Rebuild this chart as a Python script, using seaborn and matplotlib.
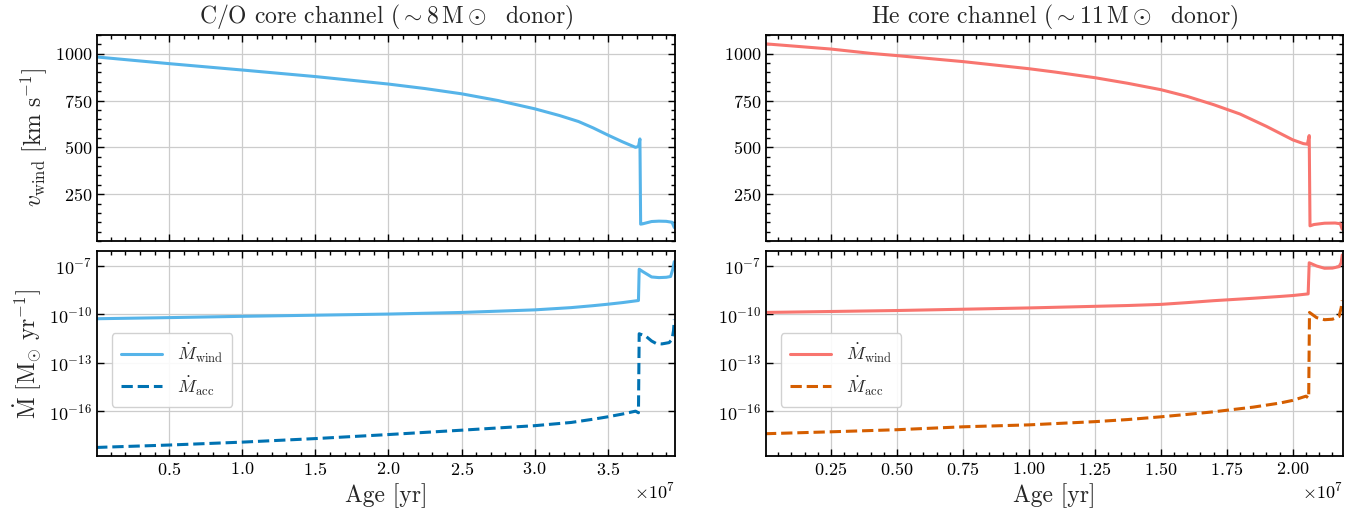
import numpy as np
import pandas as pd
import matplotlib
matplotlib.use("Agg")
import matplotlib.pyplot as plt
import matplotlib.ticker as mticker
import seaborn as sns

# ---------------- data ----------------
# C/O core channel (~8 Msun donor)
co_age_v = [0.0, 0.25e7, 0.5e7, 1.0e7, 1.5e7, 2.0e7, 2.25e7, 2.5e7, 2.75e7, 3.0e7, 3.17e7, 3.3e7,
            3.4e7, 3.5e7, 3.6e7, 3.69e7, 3.71e7, 3.72e7, 3.725e7, 3.74e7, 3.8e7, 3.85e7, 3.9e7,
            3.94e7, 3.955e7]
co_vwind = [983, 965, 947, 913, 878, 838, 814, 786, 750, 706, 670, 638,
            604, 566, 530, 500, 505, 545, 90, 92, 104, 106, 105,
            100, 72]

co_age_m = [0.0, 0.5e7, 1.0e7, 1.5e7, 2.0e7, 2.5e7, 3.0e7, 3.25e7, 3.4e7, 3.5e7, 3.6e7, 3.71e7,
            3.715e7, 3.74e7, 3.8e7, 3.85e7, 3.9e7, 3.93e7, 3.945e7, 3.955e7]
co_mwind = [-10.27, -10.20, -10.12, -10.05, -9.98, -9.88, -9.72, -9.58, -9.46, -9.37, -9.27, -9.14,
            -7.2, -7.35, -7.68, -7.72, -7.70, -7.65, -7.2, -6.73]
co_age_a = [0.0, 0.5e7, 1.0e7, 1.5e7, 2.0e7, 2.5e7, 3.0e7, 3.25e7, 3.4e7, 3.5e7, 3.6e7, 3.69e7,
            3.71e7, 3.715e7, 3.76e7, 3.8e7, 3.83e7, 3.87e7, 3.92e7, 3.94e7, 3.95e7, 3.955e7]
co_macc = [-18.25, -18.10, -17.92, -17.70, -17.45, -17.18, -16.90, -16.70, -16.50, -16.35, -16.18, -16.00,
           -16.10, -11.20, -11.35, -11.65, -11.80, -11.83, -11.75, -11.55, -11.0, -10.33]

# He core channel (~11 Msun donor)
he_age_v = [0.0, 0.25e7, 0.4e7, 0.5e7, 0.75e7, 1.0e7, 1.1e7, 1.25e7, 1.375e7, 1.5e7, 1.6e7, 1.7e7,
            1.8e7, 1.9e7, 1.95e7, 2.0e7, 2.04e7, 2.055e7, 2.062e7, 2.065e7, 2.08e7, 2.12e7, 2.16e7,
            2.18e7, 2.187e7]
he_vwind = [1053, 1025, 1002, 990, 958, 920, 902, 872, 842, 808, 772, 728,
            678, 612, 576, 540, 520, 517, 563, 81, 88, 95, 96,
            92, 63]

he_age_m = [0.0, 0.25e7, 0.5e7, 0.75e7, 1.0e7, 1.25e7, 1.375e7, 1.5e7, 1.6e7, 1.7e7, 1.85e7, 1.95e7,
            2.0e7, 2.058e7, 2.062e7, 2.09e7, 2.12e7, 2.15e7, 2.175e7, 2.183e7, 2.187e7]
he_mwind = [-9.88, -9.82, -9.76, -9.68, -9.60, -9.50, -9.45, -9.38, -9.27, -9.15, -9.00, -8.89,
            -8.83, -8.73, -6.80, -7.00, -7.14, -7.13, -7.04, -6.8, -6.32]
he_age_a = [0.0, 0.25e7, 0.5e7, 0.75e7, 1.0e7, 1.25e7, 1.375e7, 1.5e7, 1.6e7, 1.7e7, 1.85e7, 1.95e7,
            2.0e7, 2.05e7, 2.06e7, 2.063e7, 2.09e7, 2.12e7, 2.15e7, 2.175e7, 2.183e7, 2.187e7]
he_macc = [-17.40, -17.28, -17.15, -16.97, -16.85, -16.65, -16.52, -16.35, -16.20, -16.04, -15.75, -15.50,
           -15.33, -15.07, -15.20, -9.88, -10.20, -10.33, -10.30, -10.13, -9.6, -9.14]

titles = [r"C/O core channel ($\sim 8\,\mathrm{M}\odot$  donor)",
          r"He core channel ($\sim 11\,\mathrm{M}\odot$  donor)"]
xlims = [(6e4, 3.96e7), (4e4, 2.19e7)]
wind_colors = ["#56B4E9", "#F8756F"]
acc_colors = ["#0072B2", "#D55E00"]

# ---------------- style ----------------
sns.set_theme(style="ticks")
plt.rcParams.update({
    "font.family": "serif",
    "font.serif": ["cmr10", "DejaVu Serif"],
    "mathtext.fontset": "cm",
    "axes.formatter.use_mathtext": True,
    "axes.unicode_minus": False,
    "xtick.direction": "in",
    "ytick.direction": "in",
    "xtick.top": True,
    "ytick.right": True,
    "xtick.major.size": 5,
    "ytick.major.size": 5,
    "xtick.minor.size": 3,
    "ytick.minor.size": 3,
    "xtick.major.width": 1.0,
    "ytick.major.width": 1.0,
    "axes.linewidth": 1.3,
    "axes.edgecolor": "black",
    "xtick.color": "black",
    "ytick.color": "black",
    "xtick.labelsize": 13,
    "ytick.labelsize": 13,
})

fig = plt.figure(figsize=(13.64, 5.14), dpi=100)
W, H = 1364, 514
def pos(x0, x1, y0, y1):
    return [x0 / W, 1 - y1 / H, (x1 - x0) / W, (y1 - y0) / H]

cols = [(97, 675), (766, 1343)]
axes = []
for ci, (x0, x1) in enumerate(cols):
    axt = fig.add_axes(pos(x0, x1, 35, 241))
    axb = fig.add_axes(pos(x0, x1, 251, 456), sharex=axt)
    axes.append((axt, axb))

datasets = [
    (co_age_v, co_vwind, co_age_m, co_mwind, co_age_a, co_macc),
    (he_age_v, he_vwind, he_age_m, he_mwind, he_age_a, he_macc),
]

for ci, (axt, axb) in enumerate(axes):
    av, vv, am, mw, aa, ma = datasets[ci]
    dv = pd.DataFrame({"age": av, "v": vv})
    dw = pd.DataFrame({"age": am, "m": 10.0 ** np.array(mw)})
    da = pd.DataFrame({"age": aa, "m": 10.0 ** np.array(ma)})

    sns.lineplot(data=dv, x="age", y="v", ax=axt, color=wind_colors[ci], lw=2.2,
                 estimator=None, sort=False)
    sns.lineplot(data=dw, x="age", y="m", ax=axb, color=wind_colors[ci], lw=2.2,
                 estimator=None, sort=False, label=r"$\dot{M}_{\rm wind}$")
    sns.lineplot(data=da, x="age", y="m", ax=axb, color=acc_colors[ci], lw=2.2,
                 estimator=None, sort=False, linestyle="--", dashes=(3.5, 2.2),
                 label=r"$\dot{M}_{\rm acc}$")

    axt.set_title(titles[ci], fontsize=17, pad=8)
    axt.set_xlim(*xlims[ci])
    axt.set_ylim(0, 1100)
    axt.yaxis.set_major_locator(mticker.FixedLocator([250, 500, 750, 1000]))
    axt.yaxis.set_minor_locator(mticker.MultipleLocator(50))
    axt.xaxis.set_minor_locator(mticker.AutoMinorLocator())
    axt.tick_params(labelbottom=False)
    axt.set_xlabel("")
    axt.set_ylabel("")
    axt.grid(True, color="#cccccc", lw=0.9)

    axb.set_yscale("log")
    axb.set_ylim(10 ** -18.78, 10 ** -6.07)
    axb.yaxis.set_major_locator(mticker.FixedLocator([1e-16, 1e-13, 1e-10, 1e-7]))
    axb.yaxis.set_minor_locator(mticker.NullLocator())
    axb.xaxis.set_minor_locator(mticker.AutoMinorLocator())
    fmt = mticker.ScalarFormatter(useMathText=True)
    fmt.set_powerlimits((0, 0))
    axb.xaxis.set_major_formatter(fmt)
    axb.xaxis.get_offset_text().set_fontsize(13)
    axb.set_xlabel("Age [yr]", fontsize=17)
    axb.set_ylabel("")
    axb.grid(True, color="#cccccc", lw=0.9)
    leg = axb.legend(loc="center left", bbox_to_anchor=(0.01, 0.42), fontsize=13,
                     frameon=True, fancybox=True, edgecolor="#cccccc", framealpha=0.9,
                     handlelength=2.3, borderpad=0.5, labelspacing=0.5)
    for t in axt.get_xticklabels():
        t.set_visible(False)

    for ax in (axt, axb):
        ax.tick_params(which="both", top=True, right=True, direction="in")

axes[0][0].set_ylabel(r"$v_{\rm wind}\ [\mathrm{km\ s}^{-1}]$", fontsize=17)
axes[0][1].set_ylabel(r"$\dot{\mathrm{M}}\ [\mathrm{M}_{\odot}\ \mathrm{yr}^{-1}]$", fontsize=17)

fig.savefig("out.png", dpi=100)
